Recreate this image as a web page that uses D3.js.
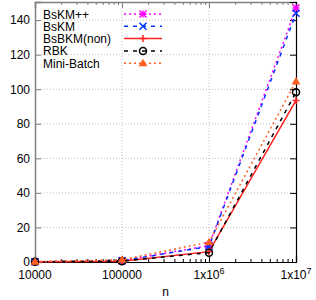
<html>
<head>
<script src="https://d3js.org/d3.v7.min.js"></script>
<style>
  body { margin: 0; background: #fff; }
  text { font-family: "Liberation Sans", Arial, sans-serif; font-size: 12px; fill: #000; }
</style>
</head>
<body>
<div id="chart"></div>
<script>
// data
var nValues = [10000, 100000, 1000000, 10000000];
var seriesNames = ["BsKM++", "BsKM", "BsBKM(non)", "RBK", "Mini-Batch"];
var bskmpp = [0.1, 0.8, 9.5, 147];
var bskm = [0.1, 0.7, 9.0, 144];
var bsbkm = [0.1, 0.4, 6.0, 93.5];
var rbk = [0.1, 0.5, 5.4, 98.3];
var minibatch = [0.2, 1.3, 11.5, 104.5];
var yTicks = [0, 20, 40, 60, 80, 100, 120, 140];

var allSeries = [
  {name: seriesNames[0], values: bskmpp, color: "#ff00ff", dash: "2,3", width: 1.5, marker: "star"},
  {name: seriesNames[1], values: bskm, color: "#0033ff", dash: "4,5", width: 1.5, marker: "cross"},
  {name: seriesNames[2], values: bsbkm, color: "#ff2020", dash: null, width: 1.5, marker: "plus"},
  {name: seriesNames[3], values: rbk, color: "#000000", dash: "4,5", width: 1.5, marker: "circle"},
  {name: seriesNames[4], values: minibatch, color: "#ff6020", dash: "2,3", width: 1.5, marker: "triangle"}
];

var W = 316, H = 300;
var mLeft = 35, mRight = 296, mTop = 2, mBottom = 262;

var svg = d3.select("#chart").append("svg")
  .attr("width", W).attr("height", H);

var x = d3.scaleLog().domain([1e4, 1e7]).range([mLeft, mRight]);
var y = d3.scaleLinear().domain([0, 150.5]).range([mBottom, mTop]);

// grid
var grid = svg.append("g");
yTicks.slice(1).forEach(function (t) {
  grid.append("line")
    .attr("x1", mLeft).attr("x2", mRight)
    .attr("y1", y(t)).attr("y2", y(t))
    .attr("stroke", "#b0b0b0").attr("stroke-width", 0.8)
    .attr("stroke-dasharray", "1,2");
});
[1e5, 1e6].forEach(function (t) {
  grid.append("line")
    .attr("x1", x(t)).attr("x2", x(t))
    .attr("y1", mTop).attr("y2", mBottom)
    .attr("stroke", "#b0b0b0").attr("stroke-width", 0.8)
    .attr("stroke-dasharray", "1,2");
});

// minor ticks on log axis
var minors = [];
[1e4, 1e5, 1e6].forEach(function (d) {
  for (var k = 2; k <= 9; k++) minors.push(d * k);
});

// axes (gnuplot style, ticks inside)
svg.append("g").attr("transform", "translate(0," + mBottom + ")")
  .call(d3.axisBottom(x).tickValues(nValues).tickSize(-6).tickFormat(""))
  .call(function (g) { g.select(".domain").attr("stroke", "#000").attr("stroke-width", 1.2); });
svg.append("g").attr("transform", "translate(0," + mBottom + ")")
  .call(d3.axisBottom(x).tickValues(minors).tickSize(-3).tickFormat(""))
  .call(function (g) { g.select(".domain").remove(); });

svg.append("g").attr("transform", "translate(0," + mTop + ")")
  .call(d3.axisTop(x).tickValues(nValues).tickSize(-6).tickFormat(""))
  .call(function (g) {
    g.select(".domain").attr("stroke", "#808080").attr("stroke-width", 1.5);
    g.selectAll(".tick line").attr("stroke", "#808080");
  });
svg.append("g").attr("transform", "translate(0," + mTop + ")")
  .call(d3.axisTop(x).tickValues(minors).tickSize(-3).tickFormat(""))
  .call(function (g) { g.select(".domain").remove(); g.selectAll(".tick line").attr("stroke", "#808080"); });

svg.append("g").attr("transform", "translate(" + mLeft + ",0)")
  .call(d3.axisLeft(y).tickValues(yTicks).tickSize(-6).tickPadding(5))
  .call(function (g) {
    g.select(".domain").attr("stroke", "#808080").attr("stroke-width", 1.5);
    g.selectAll(".tick line").attr("stroke", "#808080");
    g.selectAll(".tick text").style("font-size", "12px").style("font-family", "Liberation Sans, Arial, sans-serif").attr("fill", "#000");
  });
svg.append("g").attr("transform", "translate(" + mRight + ",0)")
  .call(d3.axisRight(y).tickValues(yTicks).tickSize(-6).tickFormat(""))
  .call(function (g) { g.select(".domain").attr("stroke", "#000").attr("stroke-width", 1.2); });

// x tick labels
var xlab = svg.append("g");
nValues.forEach(function (v, i) {
  var t = xlab.append("text")
    .attr("x", x(v)).attr("y", mBottom + 17)
    .attr("text-anchor", "middle");
  if (i < 2) {
    t.text(v);
  } else {
    t.append("tspan").text("1x10");
    t.append("tspan").attr("dy", -5).style("font-size", "9px").text(Math.round(Math.log10(v)));
  }
});

svg.append("text").attr("x", (mLeft + mRight) / 2).attr("y", 296)
  .attr("text-anchor", "middle").text("n");

// markers
function drawMarker(g, type, cx, cy, color) {
  var s = 3.5;
  if (type === "plus" || type === "star") {
    g.append("path").attr("d", "M" + (cx - s) + "," + cy + "H" + (cx + s) + "M" + cx + "," + (cy - s) + "V" + (cy + s))
      .attr("stroke", color).attr("stroke-width", 1.5);
  }
  if (type === "cross" || type === "star") {
    g.append("path").attr("d", "M" + (cx - s) + "," + (cy - s) + "L" + (cx + s) + "," + (cy + s) + "M" + (cx - s) + "," + (cy + s) + "L" + (cx + s) + "," + (cy - s))
      .attr("stroke", color).attr("stroke-width", 1.5);
  }
  if (type === "circle") {
    g.append("circle").attr("cx", cx).attr("cy", cy).attr("r", 3.5)
      .attr("fill", "none").attr("stroke", color).attr("stroke-width", 1.5);
  }
  if (type === "triangle") {
    g.append("path").attr("d", "M" + cx + "," + (cy - 4.5) + "L" + (cx + 4.5) + "," + (cy + 3) + "L" + (cx - 4.5) + "," + (cy + 3) + "Z")
      .attr("fill", color);
  }
}

var line = d3.line()
  .x(function (d, i) { return x(nValues[i]); })
  .y(function (d) { return y(d); });

var plot = svg.append("g");
allSeries.forEach(function (s) {
  plot.append("path")
    .datum(s.values)
    .attr("fill", "none")
    .attr("stroke", s.color)
    .attr("stroke-width", s.width)
    .attr("stroke-dasharray", s.dash)
    .attr("d", line);
  s.values.forEach(function (v, i) {
    drawMarker(plot, s.marker, x(nValues[i]), y(v), s.color);
  });
});

// legend
var legend = svg.append("g");
allSeries.forEach(function (s, i) {
  var ly = 14 + i * 12.3;
  legend.append("text").attr("x", 43).attr("y", ly + 4.5).text(s.name);
  legend.append("line")
    .attr("x1", 124).attr("x2", 162).attr("y1", ly).attr("y2", ly)
    .attr("stroke", s.color).attr("stroke-width", s.width)
    .attr("stroke-dasharray", s.dash);
  drawMarker(legend, s.marker, 143, ly, s.color);
});
</script>
</body>
</html>
